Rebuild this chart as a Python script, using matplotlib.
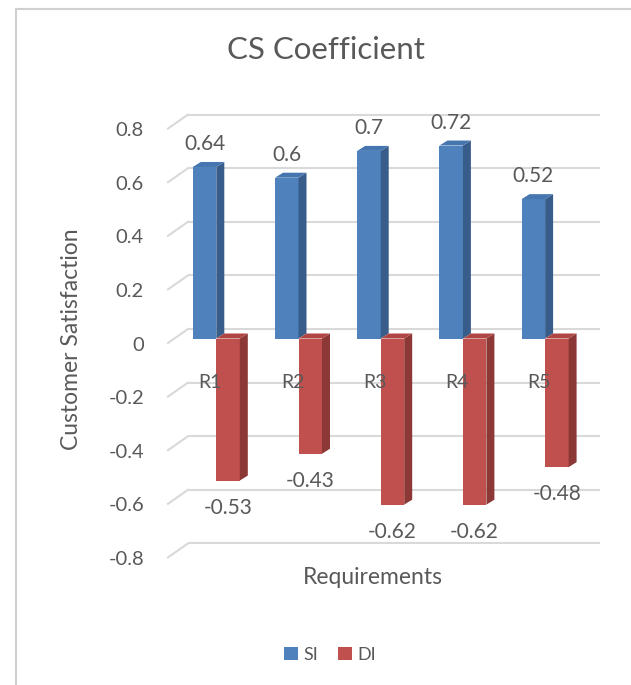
import matplotlib
matplotlib.use("Agg")
import matplotlib.pyplot as plt
from matplotlib.patches import Polygon, Patch
from matplotlib.lines import Line2D
import numpy as np

# ---- data -------------------------------------------------------------
categories = ["R1", "R2", "R3", "R4", "R5"]
si_values = [0.64, 0.60, 0.70, 0.72, 0.52]
di_values = [-0.53, -0.43, -0.62, -0.62, -0.48]
y_ticks = [-0.8, -0.6, -0.4, -0.2, 0.0, 0.2, 0.4, 0.6, 0.8]
y_tick_labels = ["-0.8", "-0.6", "-0.4", "-0.2", "0", "0.2", "0.4", "0.6", "0.8"]
series_names = ["SI", "DI"]

# ---- styling ----------------------------------------------------------
plt.rcParams["font.family"] = ["Lato", "DejaVu Sans"]
TEXT = "#595959"
GRID = "#d9d9d9"
SI_FRONT, SI_SIDE, SI_TOP = "#4f81bd", "#385d8a", "#4676b0"
DI_FRONT, DI_SIDE, DI_TOP = "#c0504d", "#8c3836", "#b04643"

W, H, DPI = 631, 685, 100

# pixel geometry of the bar plane (pixels measured from the top-left)
X0_PX = 216.3      # first category centre
X_STEP_PX = 82.2   # distance between categories
Y0_PX = 338.5      # value 0
Y_UNIT_PX = 268.0  # pixels per 1.0 of value

fig = plt.figure(figsize=(W / DPI, H / DPI), dpi=DPI)
fig.patch.set_facecolor("white")

ax_l, ax_r, ax_t, ax_b = 150, 615, 95, 600
ax = fig.add_axes([ax_l / W, 1 - ax_b / H, (ax_r - ax_l) / W, (ax_b - ax_t) / H])
ax.set_xlim((ax_l - X0_PX) / X_STEP_PX, (ax_r - X0_PX) / X_STEP_PX)
ax.set_ylim((Y0_PX - ax_b) / Y_UNIT_PX, (Y0_PX - ax_t) / Y_UNIT_PX)
ax.axis("off")


def dx(px):
    return px / X_STEP_PX


def dy(px):
    return px / Y_UNIT_PX


def xpix(px):
    return (px - X0_PX) / X_STEP_PX


# ---- back wall gridlines and side-wall diagonals -----------------------
back_up = dy(9.5)
front_down = dy(4.5)
for v, lab in zip(y_ticks, y_tick_labels):
    ax.plot([xpix(188), xpix(600)], [v + back_up, v + back_up],
            color=GRID, lw=1.5, zorder=1, solid_capstyle="butt")
    ax.plot([xpix(168), xpix(188)], [v - front_down, v + back_up],
            color=GRID, lw=1.5, zorder=1)
    ax.text(xpix(144), v - dy(6.5), lab, ha="right", va="center",
            fontsize=14.5, color=TEXT)

# ---- 3-D columns -------------------------------------------------------
x = np.arange(len(categories))
w = 23.5 / X_STEP_PX
ddx, ddy = dx(8), dy(5)


def column(xl, val, front, side, top, z):
    ax.bar(xl, val, width=w, align="edge", color=front, zorder=z,
           linewidth=0)
    xr = xl + w
    lo, hi = min(0, val), max(0, val)
    ax.add_patch(Polygon([(xr, lo), (xr, hi), (xr + ddx, hi + ddy),
                          (xr + ddx, lo + ddy)], closed=True,
                         facecolor=side, edgecolor="none", zorder=z))
    ax.add_patch(Polygon([(xl, hi), (xr, hi), (xr + ddx, hi + ddy),
                          (xl + ddx, hi + ddy)], closed=True,
                         facecolor=top, edgecolor="none", zorder=z))


for i in range(len(categories)):
    column(x[i] - w, si_values[i], SI_FRONT, SI_SIDE, SI_TOP, 3 + 2 * i)
    column(x[i], di_values[i], DI_FRONT, DI_SIDE, DI_TOP, 4 + 2 * i)

# data labels
for i in range(len(categories)):
    ax.text(x[i] - w / 2, si_values[i] + dy(23), f"{si_values[i]:g}",
            ha="center", va="center", fontsize=15, color=TEXT, zorder=20)
    ax.text(x[i] + w / 2, di_values[i] - dy(27), f"{di_values[i]:g}",
            ha="center", va="center", fontsize=15, color=TEXT, zorder=20)

# category labels
for i, c in enumerate(categories):
    ax.text(x[i] - dx(6), -dy(43.5), c, ha="center", va="center",
            fontsize=14, color=TEXT, zorder=20)

# ---- titles ------------------------------------------------------------
fig.text(326 / W, 1 - 50 / H, "CS Coefficient", ha="center", va="center",
         fontsize=22.5, color=TEXT)
fig.text(72 / W, 1 - 339 / H, "Customer Satisfaction", ha="center",
         va="center", rotation=90, fontsize=16.5, color=TEXT)
fig.text(373 / W, 1 - 578 / H, "Requirements", ha="center", va="center",
         fontsize=16.5, color=TEXT)

# ---- legend ------------------------------------------------------------
handles = [Patch(facecolor=SI_FRONT), Patch(facecolor=DI_FRONT)]
fig.legend(handles, series_names, loc="center",
           bbox_to_anchor=(330 / W, 1 - 655 / H), ncol=2, frameon=False,
           handlelength=0.75, handleheight=0.75, handletextpad=0.3,
           columnspacing=1.1, fontsize=13, labelcolor=TEXT)

# ---- chart border (left and top edges) ---------------------------------
fig.add_artist(Line2D([16 / W, 16 / W], [0, 1 - 9 / H], color="#d0d0d0",
                      lw=1.5, transform=fig.transFigure))
fig.add_artist(Line2D([16 / W, 1], [1 - 9 / H, 1 - 9 / H], color="#d0d0d0",
                      lw=1.5, transform=fig.transFigure))

fig.savefig("out.png", dpi=DPI, facecolor="white")
